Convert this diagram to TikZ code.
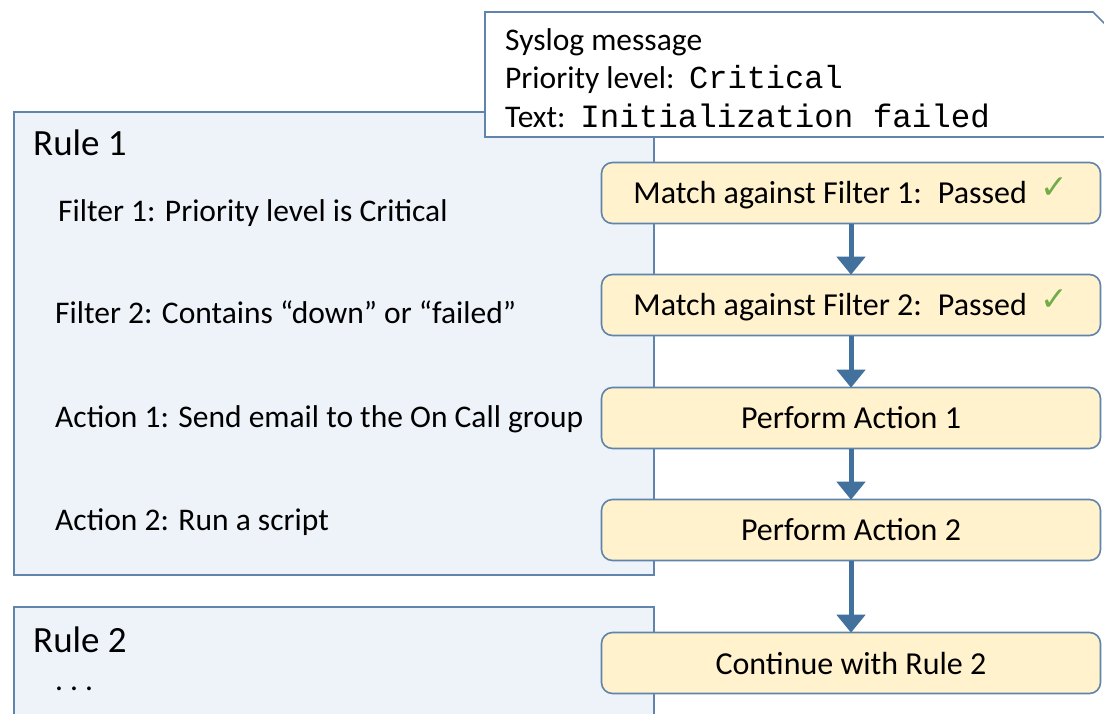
\documentclass[tikz,border=0pt]{standalone}
\usepackage{fontspec}
\setmainfont{Carlito}
\newfontfamily\codefont{Liberation Mono}
\newfontfamily\symbolfont{DejaVu Sans}
\usetikzlibrary{arrows.meta}

\definecolor{rulefill}{RGB}{238,243,250}
\definecolor{edgeblue}{RGB}{96,132,172}
\definecolor{stepfill}{RGB}{255,242,204}
\definecolor{flowblue}{RGB}{65,113,156}
\definecolor{okgreen}{RGB}{112,173,71}

\tikzset{
  rulebox/.style={draw=edgeblue, line width=1.6pt, fill=rulefill,
    anchor=north west, inner sep=0pt, minimum width=640pt},
  stepbox/.style={draw=edgeblue, line width=1.6pt, fill=stepfill,
    rounded corners=11pt, minimum width=499pt, minimum height=61pt,
    inner sep=0pt, font=\fontsize{32}{38}\selectfont},
  label/.style={anchor=base west, inner sep=0pt, font=\fontsize{31.5}{38}\selectfont},
  title/.style={anchor=base west, inner sep=0pt, font=\fontsize{37}{44}\selectfont},
  flow/.style={draw=flowblue, line width=5pt,
    -{Triangle[width=28pt,length=18pt]}, shorten >=-1pt},
}
\newcommand{\okmark}{{\symbolfont\color{okgreen}\fontsize{33}{34}\selectfont\raisebox{5pt}{✓}}}

\begin{document}
\begin{tikzpicture}[x=1pt, y=-1pt]
  \clip (0,0) rectangle (1104,713);
  \fill[white] (0,0) rectangle (1104,713);

  % rule panels
  \node[rulebox, minimum height=463pt] (rule1) at (13,111) {};
  \node[rulebox, minimum height=160pt] (rule2) at (13,606) {};

  % incoming message card with cut corner
  \draw[edgeblue, line width=1.6pt, fill=white]
    (485,12) -- (1093,12) -- (1122,41) -- (1122,137) -- (485,137) -- cycle;
  \node[label] (msg1) at (505,50) {Syslog message};
  \node[label] (msg2) at (505,88) {Priority level:\, {\codefont\fontsize{32}{38}\selectfont Critical}};
  \node[label] (msg3) at (505,127) {Text:\, {\codefont\fontsize{32.5}{38}\selectfont Initialization failed}};

  % rule contents
  \node[title] (r1) at (33,155) {Rule 1};
  \node[label] (f1) at (58,221) {Filter 1: Priority level is Critical};
  \node[label] (f2) at (55,323) {Filter 2: Contains “down” or “failed”};
  \node[label] (a1) at (55,427) {Action 1: Send email to the On Call group};
  \node[label] (a2) at (55,530) {Action 2: Run a script};
  \node[title] (r2) at (33,652) {Rule 2};
  \node[label] (more) at (55,690) {.\hspace{7pt}.\hspace{7pt}.};

  % processing steps
  \node[stepbox] (s1) at (851,193) {Match against Filter 1:\enspace Passed\hspace{14pt}\okmark};
  \node[stepbox] (s2) at (851,305) {Match against Filter 2:\enspace Passed\hspace{14pt}\okmark};
  \node[stepbox] (s3) at (851,418) {Perform Action 1};
  \node[stepbox] (s4) at (851,530) {Perform Action 2};
  \node[stepbox] (s5) at (851,663) {Continue with Rule 2};

  \draw[flow] (s1) -- (s2);
  \draw[flow] (s2) -- (s3);
  \draw[flow] (s3) -- (s4);
  \draw[flow] (s4) -- (s5);
\end{tikzpicture}
\end{document}
